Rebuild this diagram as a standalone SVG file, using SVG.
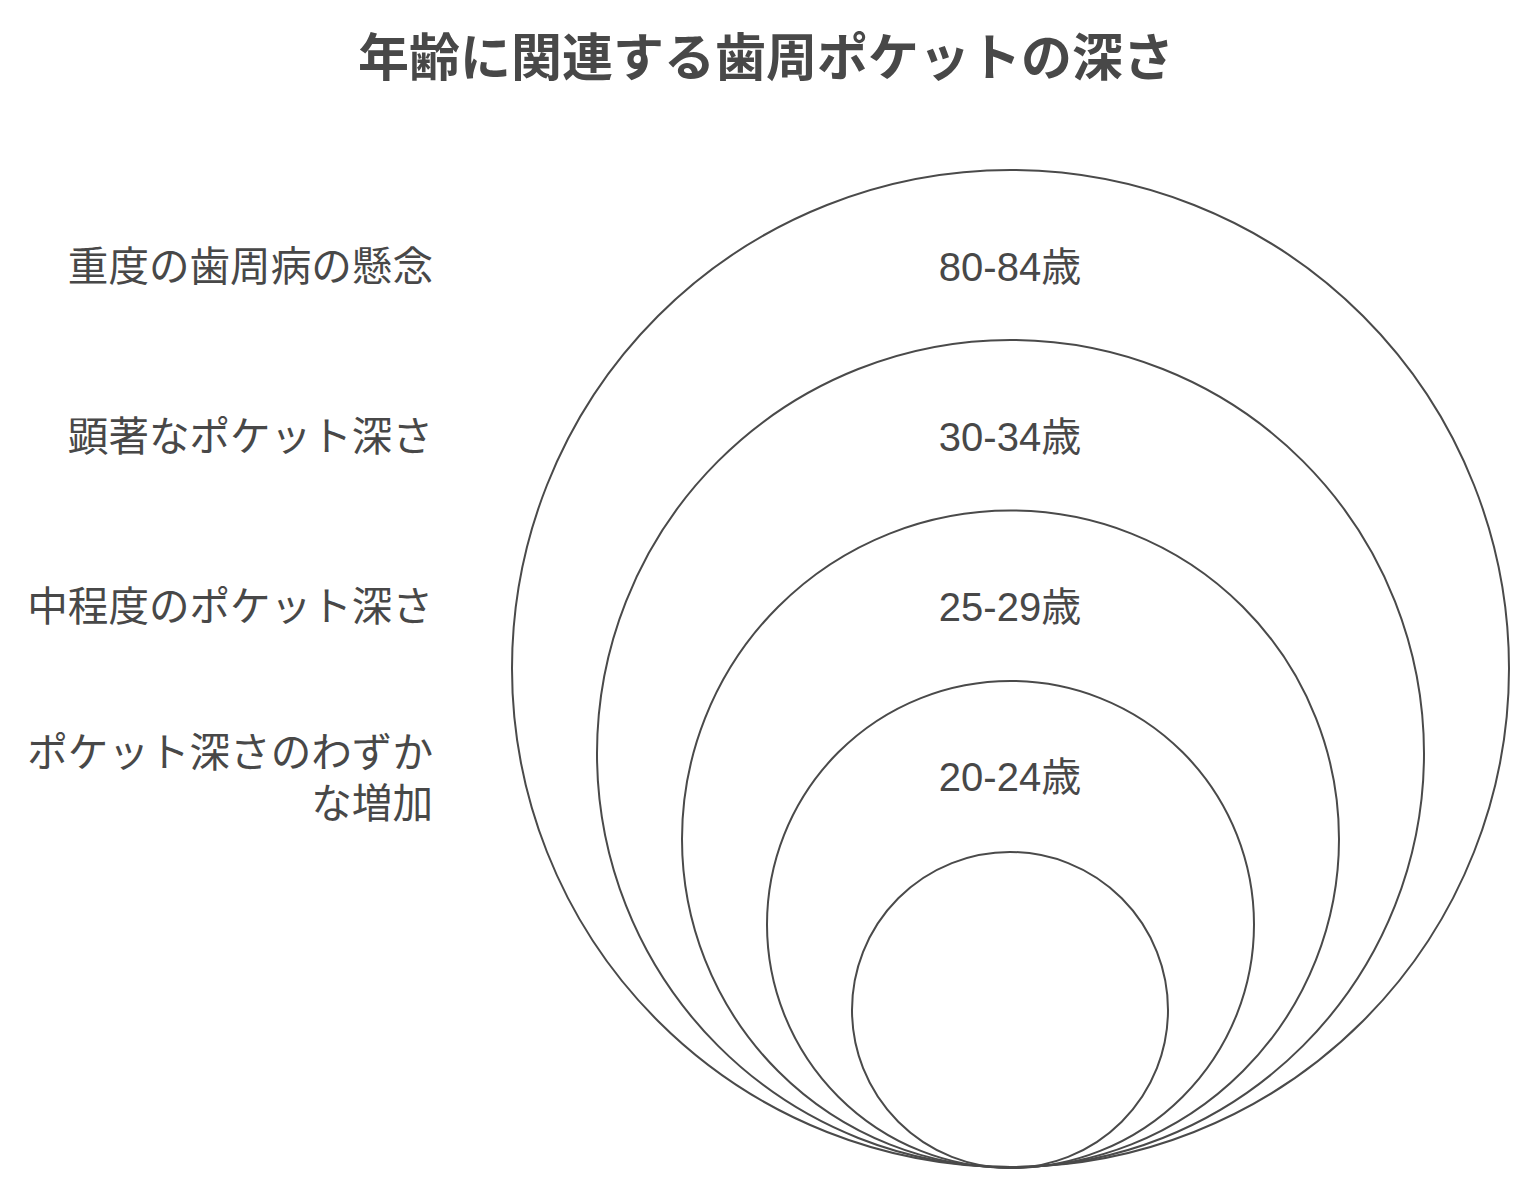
<svg xmlns="http://www.w3.org/2000/svg" width="1536" height="1195" viewBox="0 0 1536 1195">
<style>
.t{font-family:"Liberation Sans","Noto Sans CJK JP",sans-serif;fill:#484848;font-size:40px}
.l{text-anchor:end;font-size:40.6px}
.c{text-anchor:middle}
.ttl{font-family:"Liberation Sans","Noto Sans CJK JP",sans-serif;fill:#484848;font-size:51px;font-weight:bold;text-anchor:middle}
.ring{fill:none;stroke:#4a4a4a;stroke-width:2}
</style>
<rect width="1536" height="1195" fill="#ffffff"/>
<text class="ttl" x="766" y="76">年齢に関連する歯周ポケットの深さ</text>
<g id="circles">
<g id="c80"><circle class="ring" cx="1010.5" cy="668.5" r="498.5"/></g>
<g id="c30"><circle class="ring" cx="1010.5" cy="753.5" r="413.5"/></g>
<g id="c25"><circle class="ring" cx="1010.5" cy="839" r="328.5"/></g>
<g id="c20"><circle class="ring" cx="1010.5" cy="924.5" r="243.5"/></g>
<g id="cin"><circle class="ring" cx="1010" cy="1010" r="158"/></g>
</g>
<g id="agelabels">
<text class="t c" x="1010" y="281">80-84歳</text>
<text class="t c" x="1010" y="451">30-34歳</text>
<text class="t c" x="1010" y="621">25-29歳</text>
<text class="t c" x="1010" y="791">20-24歳</text>
</g>
<g id="desc">
<text class="t l" x="433" y="281">重度の歯周病の懸念</text>
<text class="t l" x="433" y="451">顕著なポケット深さ</text>
<text class="t l" x="433" y="621">中程度のポケット深さ</text>
<text class="t l" x="433" y="767">ポケット深さのわずか</text>
<text class="t l" x="433" y="818">な増加</text>
</g>
</svg>
